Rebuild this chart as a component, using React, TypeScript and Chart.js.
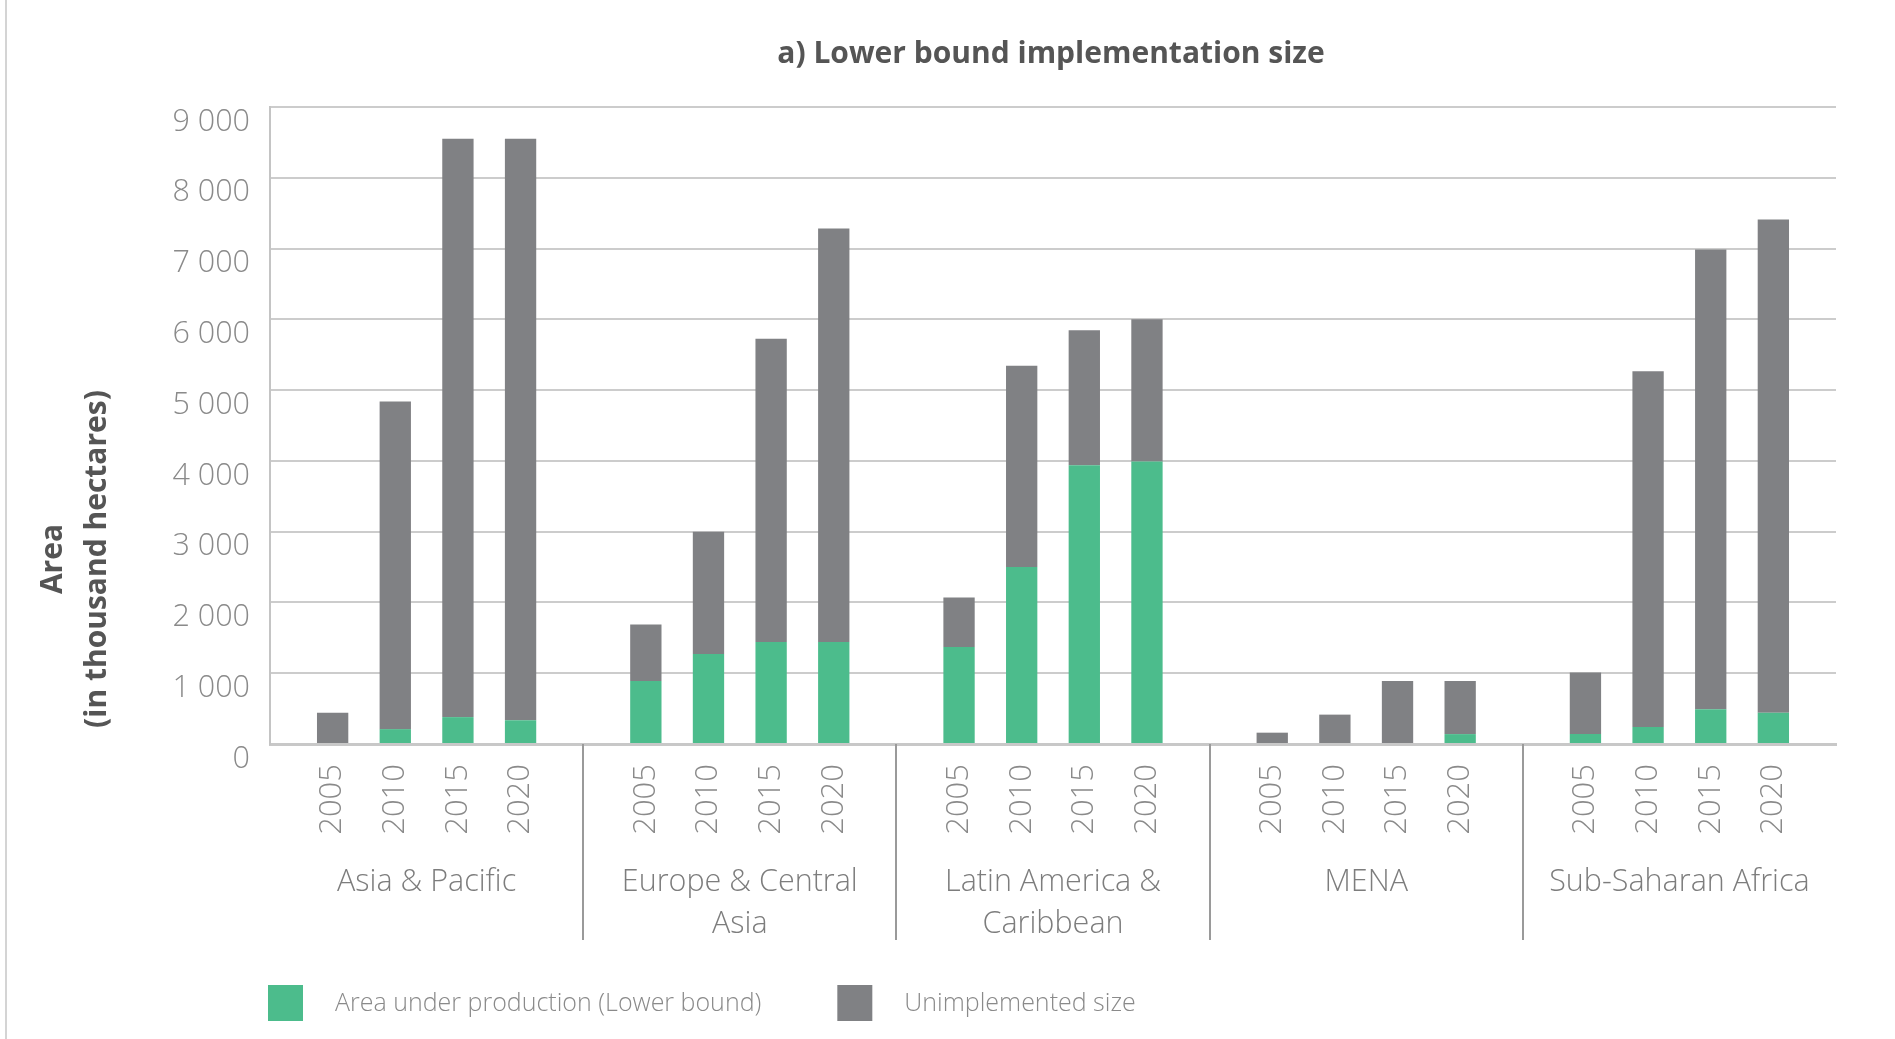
import React, { useEffect, useRef } from 'react';
import { Chart, registerables } from 'chart.js';

Chart.register(...registerables);

const chartTitle = 'a) Lower bound implementation size';
const yTitleLines = ['Area', '(in thousand hectares)'];
const regionLines = [
  ['Asia & Pacific'],
  ['Europe & Central', 'Asia'],
  ['Latin America &', 'Caribbean'],
  ['MENA'],
  ['Sub-Saharan Africa'],
];
const years = ['2005', '2010', '2015', '2020'];
const seriesNames = ['Area under production (Lower bound)', 'Unimplemented size'];

// thousand hectares, per region, per year
const areaUnderProduction = [
  [0, 210, 380, 335],
  [890, 1270, 1440, 1440],
  [1370, 2500, 3940, 3990],
  [0, 0, 0, 140],
  [140, 240, 490, 440],
];
const unimplementedSize = [
  [440, 4630, 8170, 8215],
  [800, 1730, 4285, 5845],
  [700, 2845, 1905, 2010],
  [160, 415, 890, 750],
  [870, 5025, 6495, 6970],
];
const yTicks = [0, 1000, 2000, 3000, 4000, 5000, 6000, 7000, 8000, 9000];

const GREEN = '#4cbc8c';
const GRAY = '#808184';
const FONT = "'Open Sans', sans-serif";

export default function App() {
  const ref = useRef<HTMLCanvasElement | null>(null);

  useEffect(() => {
    const canvas = ref.current;
    if (!canvas) return;

    const labels: string[] = [];
    const green: (number | null)[] = [];
    const gray: (number | null)[] = [];
    regionLines.forEach((_, g) => {
      labels.push('');
      green.push(null);
      gray.push(null);
      years.forEach((yr, i) => {
        labels.push(yr);
        green.push(areaUnderProduction[g][i]);
        gray.push(unimplementedSize[g][i]);
      });
    });
    labels.push('');
    green.push(null);
    gray.push(null);
    const slotsPerGroup = years.length + 1;

    const extras = {
      id: 'extras',
      afterDraw(chart: any) {
        const { ctx, chartArea } = chart;
        const xs = chart.scales.x;
        ctx.save();
        // page edge line
        ctx.strokeStyle = '#d4d4d4';
        ctx.lineWidth = 2;
        ctx.beginPath();
        ctx.moveTo(6, 0);
        ctx.lineTo(6, chart.height);
        ctx.stroke();

        // title
        ctx.fillStyle = '#555555';
        ctx.font = `bold 30px ${FONT}`;
        ctx.textAlign = 'center';
        ctx.textBaseline = 'middle';
        ctx.fillText(chartTitle, (chartArea.left + chartArea.right) / 2 - 2, 54);

        // y title
        const yCenters = [53, 97];
        ctx.font = `bold 30px ${FONT}`;
        yTitleLines.forEach((t, i) => {
          ctx.save();
          ctx.translate(yCenters[i], 559);
          ctx.rotate(-Math.PI / 2);
          ctx.fillText(t, 0, 0);
          ctx.restore();
        });

        // group separators
        ctx.strokeStyle = '#9a9a9a';
        ctx.lineWidth = 2;
        for (let g = 1; g < regionLines.length; g++) {
          const px = Math.round(xs.getPixelForValue(g * slotsPerGroup));
          ctx.beginPath();
          ctx.moveTo(px, chartArea.bottom);
          ctx.lineTo(px, 940);
          ctx.stroke();
        }

        // group labels
        ctx.fillStyle = '#7d7d7d';
        ctx.font = `300 30.5px ${FONT}`;
        regionLines.forEach((lines, g) => {
          const cx = xs.getPixelForValue(g * slotsPerGroup + slotsPerGroup / 2);
          lines.forEach((t, i) => {
            ctx.fillText(t, cx, 882 + i * 42);
          });
        });

        // legend
        const colors = [GREEN, GRAY];
        let lx = chartArea.left - 2;
        ctx.font = `300 25px ${FONT}`;
        ctx.textAlign = 'left';
        seriesNames.forEach((name, i) => {
          ctx.fillStyle = colors[i];
          ctx.fillRect(lx, 985, 35, 36);
          ctx.fillStyle = '#8a8a8a';
          ctx.fillText(name, lx + 67, 1004);
          lx += 67 + ctx.measureText(name).width + 76;
        });
        ctx.restore();
      },
    };

    const chart = new Chart(canvas, {
      type: 'bar',
      data: {
        labels,
        datasets: [
          { label: seriesNames[0], data: green, backgroundColor: GREEN, borderWidth: 0 },
          { label: seriesNames[1], data: gray, backgroundColor: GRAY, borderWidth: 0 },
        ],
      },
      options: {
        responsive: false,
        animation: false,
        devicePixelRatio: 1,
        layout: { padding: { left: 0, right: 59, top: 107, bottom: 0 } },
        datasets: { bar: { categoryPercentage: 0.5, barPercentage: 1.0 } },
        plugins: { legend: { display: false }, tooltip: { enabled: false }, title: { display: false } },
        scales: {
          x: {
            type: 'category',
            stacked: true,
            offset: false,
            grid: { display: false, drawTicks: false },
            border: { display: true, color: '#c8c8c8', width: 3 },
            ticks: {
              autoSkip: false,
              minRotation: 90,
              maxRotation: 90,
              padding: 20,
              color: '#8a8a8a',
              font: { family: FONT, size: 31, weight: '300' },
            },
            afterFit(scale: any) {
              scale.height = 1039 - 744;
            },
          },
          y: {
            stacked: true,
            min: 0,
            max: 9000,
            afterBuildTicks(scale: any) {
              scale.ticks = yTicks.map((v) => ({ value: v }));
            },
            grid: { color: '#cccccc', lineWidth: 2, drawTicks: false },
            border: { display: true, color: '#c4c4c4', width: 2 },
            ticks: {
              padding: 20,
              labelOffset: 15,
              color: '#8a8a8a',
              font: { family: FONT, size: 30.5, weight: '300' },
              callback: (v: any) => String(v).replace(/\B(?=(\d{3})+(?!\d))/g, ' '),
            },
            afterFit(scale: any) {
              scale.width = 270;
            },
          },
        },
      },
      plugins: [extras],
    } as any);

    return () => chart.destroy();
  }, []);

  return (
    <div style={{ position: 'fixed', left: 0, top: 0, width: 1895, height: 1039, background: '#fff' }}>
      <canvas ref={ref} width={1895} height={1039} style={{ display: 'block' }} />
    </div>
  );
}
